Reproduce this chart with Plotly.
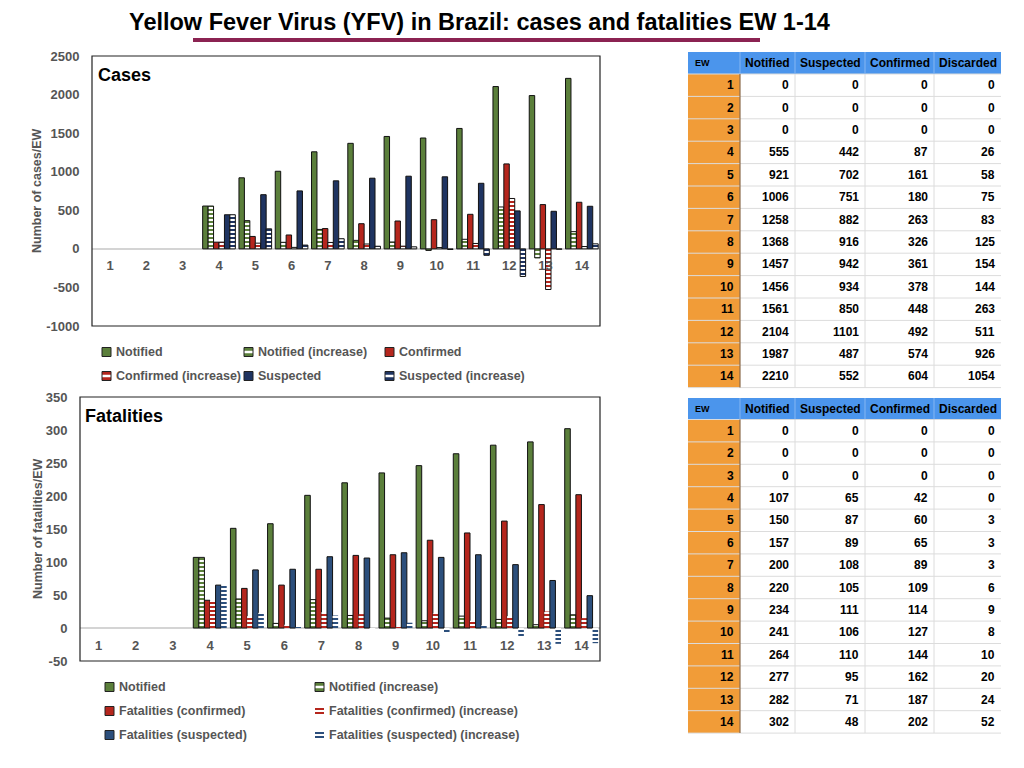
import plotly.graph_objects as go

# epidemiological weeks
ew = [1, 2, 3, 4, 5, 6, 7, 8, 9, 10, 11, 12, 13, 14]

# cases chart
cases_notified = [0, 0, 0, 555, 921, 1006, 1258, 1368, 1457, 1437, 1561, 2104, 1987, 2210]
cases_notified_inc = [0, 0, 0, 555, 366, 85, 252, 110, 89, -20, 124, 543, -117, 223]
cases_confirmed = [0, 0, 0, 87, 161, 180, 263, 326, 361, 378, 448, 1101, 574, 604]
cases_confirmed_inc = [0, 0, 0, 87, 74, 19, 83, 63, 35, 17, 70, 653, -527, 30]
cases_suspected = [0, 0, 0, 442, 702, 751, 882, 916, 942, 934, 850, 492, 487, 552]
cases_suspected_inc = [0, 0, 0, 442, 260, 49, 131, 34, 26, -8, -84, -358, -5, 65]
cases_yticks = [-1000, -500, 0, 500, 1000, 1500, 2000, 2500]

# fatalities chart
fat_notified = [0, 0, 0, 107, 151, 158, 201, 220, 235, 246, 264, 277, 282, 302]
fat_notified_inc = [0, 0, 0, 107, 44, 7, 43, 19, 15, 11, 18, 13, 5, 20]
fat_confirmed = [0, 0, 0, 42, 60, 65, 89, 110, 111, 133, 144, 162, 187, 202]
fat_confirmed_inc = [0, 0, 0, 42, 18, 5, 24, 21, 1, 22, 11, 18, 25, 15]
fat_suspected = [0, 0, 0, 65, 88, 89, 108, 106, 114, 107, 111, 96, 72, 49]
fat_suspected_inc = [0, 0, 0, 65, 23, 1, 19, -2, 8, -7, 4, -15, -24, -23]
fat_yticks = [-50, 0, 50, 100, 150, 200, 250, 300, 350]

# tables
table_cols = ["EW", "Notified", "Suspected", "Confirmed", "Discarded"]
tc_notified = [0, 0, 0, 555, 921, 1006, 1258, 1368, 1457, 1456, 1561, 2104, 1987, 2210]
tc_suspected = [0, 0, 0, 442, 702, 751, 882, 916, 942, 934, 850, 1101, 487, 552]
tc_confirmed = [0, 0, 0, 87, 161, 180, 263, 326, 361, 378, 448, 492, 574, 604]
tc_discarded = [0, 0, 0, 26, 58, 75, 83, 125, 154, 144, 263, 511, 926, 1054]
tf_notified = [0, 0, 0, 107, 150, 157, 200, 220, 234, 241, 264, 277, 282, 302]
tf_suspected = [0, 0, 0, 65, 87, 89, 108, 105, 111, 106, 110, 95, 71, 48]
tf_confirmed = [0, 0, 0, 42, 60, 65, 89, 109, 114, 127, 144, 162, 187, 202]
tf_discarded = [0, 0, 0, 0, 3, 3, 3, 6, 9, 8, 10, 20, 24, 52]

GREEN = "#5b7f3b"
RED = "#b5261d"
NAVY = "#1f3461"
BLUE2 = "#2c4f7c"
GREY = "#555555"
FONT = "Liberation Sans"

# the page body has an 8px margin, so the figure is a bit smaller and
# every screen position is shifted by 8px
W, H, OFF = 1008, 752, 8


def px(x):
    return (x - OFF) / W


def py(y):
    return 1 - (y - OFF) / H


fig = go.Figure()
shapes = []
annotations = []


def bar(x, y, name, color, xa, ya, spot, striped=False, outline=True):
    widths = [0 if (v == 0 or not outline) else 1 for v in y]
    if striped:
        marker = dict(color="white",
                      pattern=dict(shape="-", fgcolor=color, bgcolor="white",
                                   size=4, solidity=0.5, fillmode="replace"),
                      line=dict(color="#111111", width=widths))
    else:
        marker = dict(color=color, line=dict(color="#111111", width=widths))
    legend_entry(name, color, spot, striped, outline)
    return go.Bar(x=x, y=y, name=name, marker=marker, xaxis=xa, yaxis=ya,
                  showlegend=False, hoverinfo="x+y+name")


def legend_entry(name, color, spot, striped, outline):
    # small swatch just left of the text, like the slide legend
    tx, ty = spot
    x0, x1, y0, y1 = px(tx - 12), px(tx - 3), py(ty + 4.5), py(ty - 4.5)
    box = dict(type="rect", xref="paper", yref="paper", x0=x0, x1=x1, y0=y0, y1=y1)
    if not striped:
        shapes.append(dict(box, fillcolor=color, line=dict(color="#222222", width=1)))
    elif outline:
        shapes.append(dict(box, fillcolor=color, line=dict(width=0)))
        shapes.append(dict(type="line", xref="paper", yref="paper", x0=x0, x1=x1,
                           y0=py(ty), y1=py(ty), line=dict(color="white", width=2.5)))
        shapes.append(dict(box, fillcolor="rgba(0,0,0,0)", line=dict(color="#222222", width=1)))
    else:
        for dy in (-2, 2):
            shapes.append(dict(type="line", xref="paper", yref="paper", x0=x0, x1=x1,
                               y0=py(ty + dy), y1=py(ty + dy), line=dict(color=color, width=2)))
    annotations.append(dict(text="<b>%s</b>" % name, x=px(tx), y=py(ty), xanchor="left",
                            yanchor="middle", font=dict(family=FONT, size=12.5, color=GREY)))


# top chart
fig.add_trace(bar(ew, cases_notified, "Notified", GREEN, "x", "y", (114, 352)))
fig.add_trace(bar(ew, cases_notified_inc, "Notified (increase)", GREEN, "x", "y", (256, 352), True))
fig.add_trace(bar(ew, cases_confirmed, "Confirmed", RED, "x", "y", (397, 352)))
fig.add_trace(bar(ew, cases_confirmed_inc, "Confirmed (increase)", RED, "x", "y", (114, 376), True))
fig.add_trace(bar(ew, cases_suspected, "Suspected", NAVY, "x", "y", (256, 376)))
fig.add_trace(bar(ew, cases_suspected_inc, "Suspected (increase)", NAVY, "x", "y", (397, 376), True))

# bottom chart
fig.add_trace(bar(ew, fat_notified, "Notified", GREEN, "x2", "y2", (117, 687)))
fig.add_trace(bar(ew, fat_notified_inc, "Notified (increase)", GREEN, "x2", "y2", (327, 687), True))
fig.add_trace(bar(ew, fat_confirmed, "Fatalities (confirmed)", RED, "x2", "y2", (117, 711)))
fig.add_trace(bar(ew, fat_confirmed_inc, "Fatalities (confirmed) (increase)", RED, "x2", "y2", (327, 711), True, False))
fig.add_trace(bar(ew, fat_suspected, "Fatalities (suspected)", BLUE2, "x2", "y2", (117, 735)))
fig.add_trace(bar(ew, fat_suspected_inc, "Fatalities (suspected) (increase)", BLUE2, "x2", "y2", (327, 735), True, False))

tick_font = dict(family=FONT, size=13, color=GREY, weight="bold")
xtick_font = dict(family=FONT, size=13, color=GREY, weight="bold")

top_box = (92, 600, 56, 326)
bot_box = (80, 600, 397, 661)


def zero_pos(box, lo, hi):
    y_top, y_bot = py(box[2]), py(box[3])
    return y_bot + (0 - lo) / (hi - lo) * (y_top - y_bot)


fig.update_layout(
    width=W, height=H,
    margin=dict(l=0, r=0, t=0, b=0, autoexpand=False),
    paper_bgcolor="white", plot_bgcolor="white",
    font=dict(family=FONT),
    barmode="group", bargap=0.1, bargroupgap=0,
    showlegend=False,
    xaxis=dict(domain=[px(top_box[0]), px(top_box[1])], range=[0.5, 14.5], tickvals=ew,
               anchor="free", position=zero_pos(top_box, -1000, 2500),
               showline=False, showgrid=False, zeroline=False, automargin=False,
               ticks="outside", ticklen=5, tickcolor="rgba(0,0,0,0)", tickfont=xtick_font),
    yaxis=dict(domain=[py(top_box[3]), py(top_box[2])], range=[-1000, 2500],
               tickvals=cases_yticks, ticktext=[str(v) for v in cases_yticks],
               showgrid=False, zeroline=True, zerolinecolor="#d4d4d4", zerolinewidth=1.5,
               automargin=False, ticks="outside", ticklen=9, tickcolor="rgba(0,0,0,0)",
               tickfont=tick_font),
    xaxis2=dict(domain=[px(bot_box[0]), px(bot_box[1])], range=[0.5, 14.5], tickvals=ew,
                anchor="free", position=zero_pos(bot_box, -50, 350),
                showline=False, showgrid=False, zeroline=False, automargin=False,
                ticks="outside", ticklen=5, tickcolor="rgba(0,0,0,0)", tickfont=xtick_font),
    yaxis2=dict(domain=[py(bot_box[3]), py(bot_box[2])], range=[-50, 350],
                tickvals=fat_yticks, ticktext=[str(v) for v in fat_yticks],
                anchor="x2", showgrid=False, zeroline=True, zerolinecolor="#d4d4d4",
                zerolinewidth=1.5, automargin=False, ticks="outside", ticklen=9,
                tickcolor="rgba(0,0,0,0)", tickfont=tick_font),
)

# chart frames
for xr, yr in (("x domain", "y domain"), ("x2 domain", "y2 domain")):
    shapes.append(dict(type="rect", xref=xr, yref=yr, x0=0, x1=1, y0=0, y1=1,
                       line=dict(color="#222222", width=1.2), layer="above"))

# title and its underline
shapes.append(dict(type="line", xref="paper", yref="paper", x0=px(193), x1=px(760),
                   y0=py(40), y1=py(40), line=dict(color="#8b2352", width=4)))
annotations.append(dict(text="<b>Yellow Fever Virus (YFV) in Brazil: cases and fatalities EW 1-14</b>",
                        x=px(479), y=py(22), xanchor="center", yanchor="middle",
                        font=dict(family="Liberation Sans Narrow, " + FONT, size=23.5, color="black")))
annotations.append(dict(text="<b>Cases</b>", x=px(96), y=py(75), xanchor="left", yanchor="middle",
                        font=dict(family=FONT, size=18, color="black")))
annotations.append(dict(text="<b>Fatalities</b>", x=px(83), y=py(416), xanchor="left", yanchor="middle",
                        font=dict(family=FONT, size=18, color="black")))
annotations.append(dict(text="<b>Number of cases/EW</b>", x=px(37), y=py(191), textangle=-90,
                        xanchor="center", yanchor="middle",
                        font=dict(family=FONT, size=12.5, color=GREY)))
annotations.append(dict(text="<b>Number of fatalities/EW</b>", x=px(38), y=py(529), textangle=-90,
                        xanchor="center", yanchor="middle",
                        font=dict(family=FONT, size=12.5, color=GREY)))

# data tables drawn cell by cell
col_edges = [688, 740, 795, 865, 934, 1001]


def draw_table(top, head_h, row_h, columns):
    y_head = top + head_h
    y_end = y_head + row_h * len(ew)
    shapes.append(dict(type="rect", xref="paper", yref="paper", x0=px(col_edges[0]), x1=px(col_edges[-1]),
                       y0=py(top), y1=py(y_head), fillcolor="#4b95ec", line=dict(width=0)))
    shapes.append(dict(type="rect", xref="paper", yref="paper", x0=px(col_edges[0]), x1=px(col_edges[1]),
                       y0=py(y_head), y1=py(y_end), fillcolor="#f19c38", line=dict(width=0)))
    for r in range(len(ew) + 1):
        yy = y_head + r * row_h
        shapes.append(dict(type="line", xref="paper", yref="paper", x0=px(col_edges[0]), x1=px(col_edges[-1]),
                           y0=py(yy), y1=py(yy), line=dict(color="#dcdcdc", width=1)))
    for c, xx in enumerate(col_edges[1:-1]):
        shapes.append(dict(type="line", xref="paper", yref="paper", x0=px(xx), x1=px(xx),
                           y0=py(top), y1=py(y_head), line=dict(color="#86b6f2", width=1)))
        shapes.append(dict(type="line", xref="paper", yref="paper", x0=px(xx), x1=px(xx),
                           y0=py(y_head), y1=py(y_end),
                           line=dict(color="#8a6a4a" if c == 0 else "#dcdcdc", width=1.2 if c == 0 else 1)))
    for c, name in enumerate(table_cols):
        if c == 0:
            annotations.append(dict(text="<b>%s</b>" % name, x=px(col_edges[0] + 5), y=py(top + head_h / 2),
                                    xanchor="left", yanchor="middle",
                                    font=dict(family=FONT, size=9, color="black")))
        else:
            annotations.append(dict(text="<b>%s</b>" % name, x=px((col_edges[c] + col_edges[c + 1]) / 2),
                                    y=py(top + head_h / 2), xanchor="center", yanchor="middle",
                                    font=dict(family=FONT, size=12, color="black")))
    for c, values in enumerate(columns):
        for r, v in enumerate(values):
            annotations.append(dict(text="<b>%s</b>" % v, x=px(col_edges[c + 1] - 4),
                                    y=py(y_head + (r + 0.5) * row_h), xanchor="right", yanchor="middle",
                                    font=dict(family=FONT, size=12, color="black")))


draw_table(52, 22, 22.4, [ew, tc_notified, tc_suspected, tc_confirmed, tc_discarded])
draw_table(398, 21.5, 22.4, [ew, tf_notified, tf_suspected, tf_confirmed, tf_discarded])

for a in annotations:
    a.setdefault("xref", "paper")
    a.setdefault("yref", "paper")
    a["showarrow"] = False
fig.update_layout(shapes=shapes, annotations=annotations)

fig.write_html("out.html")
